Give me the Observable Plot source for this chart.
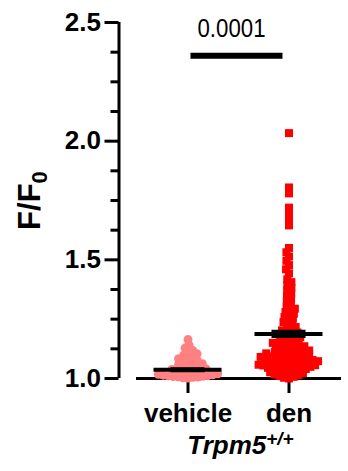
<!DOCTYPE html>
<html><head><meta charset="utf-8">
<script src="https://cdn.jsdelivr.net/npm/d3@7"></script>
<script src="https://cdn.jsdelivr.net/npm/@observablehq/plot@0.6"></script>
<style>html,body{margin:0;padding:0;background:#fff}svg{display:block}</style>
</head><body><div id="chart"></div>
<script>
// ---- data ----
const categories = ["vehicle", "den"];
const groupColors = ["#ff8080", "#ff0000"];
const groupSymbols = ["circle", "square"];
const vehicleValues = [
  1.002, 1.003, 1.005, 1.006, 1.007, 1.008, 1.009, 1.011, 1.012, 1.014, 1.016, 1.018,
  1.020, 1.022, 1.025, 1.027, 1.030, 1.032, 1.035, 1.038, 1.041, 1.044,
  1.047, 1.051, 1.054, 1.058, 1.062, 1.065, 1.069,
  1.073, 1.078, 1.083, 1.088, 1.093, 1.098,
  1.104, 1.111, 1.118,
  1.128, 1.141,
  1.164
];
const denValues = [
  1.000, 1.003, 1.007,
  1.011, 1.014, 1.017, 1.020, 1.023, 1.026, 1.029, 1.032, 1.035, 1.038,
  1.040, 1.042, 1.044, 1.045, 1.047, 1.049, 1.051, 1.053, 1.055, 1.056,
  1.058, 1.060, 1.062, 1.064, 1.066, 1.067, 1.069, 1.071, 1.073, 1.075,
  1.077, 1.078, 1.080, 1.082, 1.084, 1.086, 1.088, 1.089, 1.091, 1.093,
  1.095, 1.097,
  1.100, 1.102, 1.103, 1.106, 1.108, 1.109, 1.112, 1.115, 1.118, 1.121, 1.124, 1.127, 1.130, 1.133, 1.136, 1.139,
  1.142, 1.146, 1.150, 1.154, 1.158, 1.162, 1.166, 1.170, 1.174, 1.178, 1.182, 1.186, 1.190, 1.194, 1.198,
  1.203, 1.210, 1.217, 1.224, 1.231, 1.238, 1.245, 1.252, 1.259, 1.266, 1.273, 1.280, 1.287, 1.294,
  1.302, 1.313, 1.325, 1.336, 1.348, 1.359, 1.371, 1.382, 1.394, 1.406, 1.418,
  1.443, 1.460, 1.478, 1.496, 1.514, 1.532, 1.550,
  1.645, 1.670, 1.695, 1.720,
  1.780, 1.805,
  2.034
];
const groupValues = [vehicleValues, denValues];
const means = [1.037, 1.188];
const sems = [0.002, 0.009];
const yTicks = [1.0, 1.5, 2.0, 2.5];
const yMinorTicks = [1.125, 1.25, 1.375, 1.625, 1.75, 1.875, 2.125, 2.25, 2.375];
const yLabelMain = "F/F";
const yLabelSub = "0";
const xTitleMain = "Trpm5";
const xTitleSup = "+/+";
const comparisonGroups = ["vehicle", "den"];
const comparisonY = [2.36];
const comparisonP = ["0.0001"];
const comparisonLabelY = [2.44];

// ---- tables built from the arrays ----
const points = categories.map((g, i) => groupValues[i].map(v => ({group: g, value: v})));
const stats = categories.map((g, i) => ({group: g, mean: means[i], sem: sems[i]}));
const caps = stats.flatMap(d => [{group: d.group, y: d.mean - d.sem}, {group: d.group, y: d.mean + d.sem}]);
const barLeft = [{group: comparisonGroups[0], x1: 0, x2: 0.5, y: comparisonY[0]}];
const barRight = [{group: comparisonGroups[1], x1: -0.5, x2: 0, y: comparisonY[0]}];
const pLabels = comparisonP.map((p, i) => ({group: comparisonGroups[0], p, y: comparisonLabelY[i]}));
const yAxisLine = [{group: categories[0], x: -0.5, y1: yTicks[0], y2: yTicks[yTicks.length - 1]}];

const font = "'Liberation Sans', Arial, Helvetica, sans-serif";

const chart = Plot.plot({
  width: 348,
  height: 471,
  marginTop: 22,
  marginBottom: 93,
  marginLeft: 118,
  marginRight: 0,
  style: {fontFamily: font, color: "black", background: "white"},
  fx: {domain: categories, padding: 0, insetLeft: 18.5, insetRight: 9.5, axis: null},
  x: {domain: [-0.5, 0.5], axis: null},
  y: {domain: [1, 2.5], axis: null},
  marks: [
    Plot.frame({anchor: "bottom", facet: "super", strokeWidth: 3}),
    Plot.ruleX(yAxisLine, {fx: "group", x: "x", y1: "y1", y2: "y2", dx: -18.5, strokeWidth: 3}),
    Plot.axisY({ticks: yTicks, tickFormat: d3.format(".1f"), tickSize: 14, tickPadding: 4, dx: -18.5,
      strokeWidth: 3, fontSize: 26, fontWeight: "bold", label: null}),
    Plot.axisY({ticks: yMinorTicks, tickFormat: () => "", tickSize: 8, dx: -18.5, strokeWidth: 3, label: null}),
    Plot.axisFx({anchor: "bottom", tickSize: 15, tickPadding: 10, strokeWidth: 3, fontSize: 26, fontWeight: "bold", label: null}),
    ...categories.map((g, i) => Plot.dot(points[i], Plot.dodgeX({anchor: "middle", r: 2, padding: 1},
      {fx: "group", y: "value", r: 4.5, fill: groupColors[i], stroke: "none", symbol: groupSymbols[i]}))),
    Plot.tickY(stats, {fx: "group", y: "mean", strokeWidth: 4, insetLeft: 16.5, insetRight: 16.5}),
    Plot.tickY(caps, {fx: "group", y: "y", strokeWidth: 4, insetLeft: 33.5, insetRight: 33.5}),
    Plot.ruleY(barLeft, {fx: "group", x1: "x1", x2: "x2", y: "y", strokeWidth: 6, insetLeft: 3}),
    Plot.ruleY(barRight, {fx: "group", x1: "x1", x2: "x2", y: "y", strokeWidth: 6, insetRight: 6}),
    Plot.text(pLabels, {fx: "group", y: "y", text: "p", frameAnchor: "right", textAnchor: "middle", dx: -7,
      lineAnchor: "bottom", fontSize: 25, fontWeight: "normal"}),
    Plot.text([yLabelMain + yLabelSub], {facet: "super", frameAnchor: "left", textAnchor: "middle", rotate: -90,
      lineAnchor: "bottom", dx: -98, fontSize: 31, fontWeight: "bold"}),
    Plot.text([xTitleMain + xTitleSup], {facet: "super", frameAnchor: "bottom", textAnchor: "middle", lineAnchor: "bottom",
      dy: 75, dx: 2, fontSize: 26, fontWeight: "bold", fontStyle: "italic"})
  ]
});

// rich text: subscript / superscript and condensed p-value
d3.select(chart).selectAll("text").each(function () {
  const t = this.textContent;
  const sel = d3.select(this);
  if (t === yLabelMain + yLabelSub) {
    sel.text(null);
    sel.append("tspan").text(yLabelMain);
    sel.append("tspan").attr("font-size", 22).attr("dy", 7).text(yLabelSub);
  } else if (t === xTitleMain + xTitleSup) {
    sel.text(null);
    sel.append("tspan").text(xTitleMain);
    sel.append("tspan").attr("font-size", 19).attr("dy", -9).text(xTitleSup);
  } else if (comparisonP.includes(t)) {
    sel.attr("textLength", 68).attr("lengthAdjust", "spacingAndGlyphs");
  }
});

document.getElementById("chart").appendChild(chart);
</script>
</body></html>
